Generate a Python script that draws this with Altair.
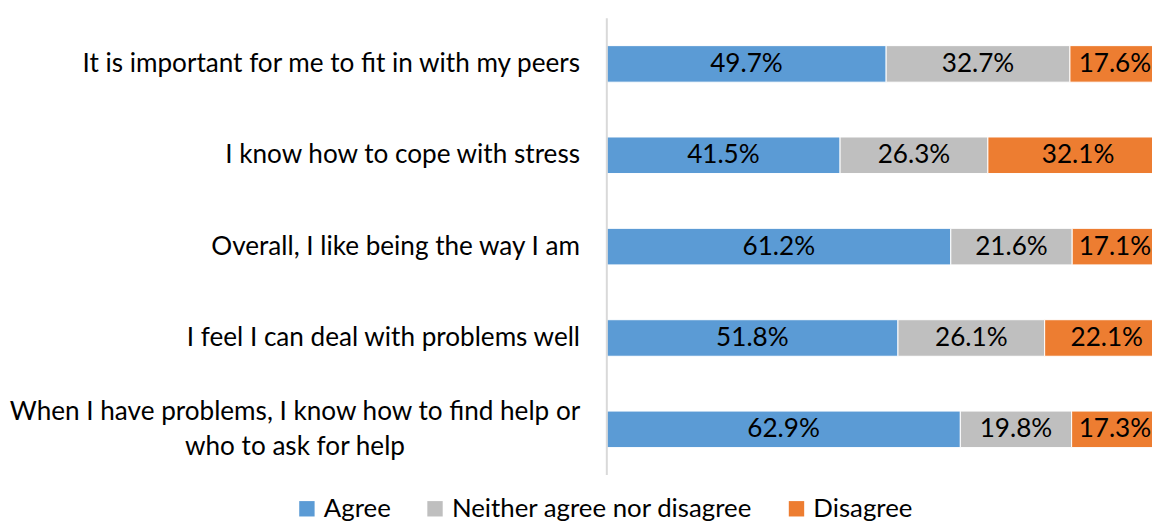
import altair as alt
import pandas as pd

statements = [
    "It is important for me to fit in with my peers",
    "I know how to cope with stress",
    "Overall, I like being the way I am",
    "I feel I can deal with problems well",
    "When I have problems, I know how to find help or\nwho to ask for help",
]
responses = ["Agree", "Neither agree nor disagree", "Disagree"]
agree = [49.7, 41.5, 61.2, 51.8, 62.9]
neither = [32.7, 26.3, 21.6, 26.1, 19.8]
disagree = [17.6, 32.1, 17.1, 22.1, 17.3]
colors = ["#5B9BD5", "#BFBFBF", "#ED7D31"]

rows = []
for i, s in enumerate(statements):
    for j, (r, vals) in enumerate(zip(responses, [agree, neither, disagree])):
        rows.append({"statement": s, "response": r, "order": j, "value": vals[i]})
df = pd.DataFrame(rows)

labels_df = pd.DataFrame({"statement": statements,
                          "multi": ["\n" in s for s in statements]})

FONT = "Lato"
FS = 26.3

y_enc = alt.Y("statement:N", sort=statements, axis=None,
              scale=alt.Scale(paddingInner=0.6, paddingOuter=0.3))

# the visible view is cropped at the right edge, as in the reference
x_scale = alt.Scale(domain=[0, 97.0], nice=False, zero=True)

base = alt.Chart(df).transform_stack(
    stack="value", groupby=["statement"], as_=["x0", "x1"],
    sort=[alt.SortField("order", order="ascending")],
).transform_calculate(mid="min((datum.x0 + datum.x1) / 2, 90.4)",
                      lbl="format(datum.value, '.1f') + '%'")

bars = base.mark_bar(stroke="white", strokeWidth=1, clip=True).encode(
    y=y_enc,
    x=alt.X("x0:Q", scale=x_scale, axis=None),
    x2="x1:Q",
    color=alt.Color("response:N", sort=responses,
                    scale=alt.Scale(domain=responses, range=colors),
                    legend=alt.Legend(title=None, orient="none", direction="horizontal",
                                      legendX=-315, legendY=481,
                                      symbolType="square", symbolSize=240,
                                      symbolStrokeWidth=0,
                                      labelFont=FONT, labelFontSize=26, labelColor="#000000",
                                      labelOffset=4, columnPadding=31,
                                      labelLimit=600)),
)

texts = base.mark_text(font=FONT, fontSize=FS, color="#000000", baseline="middle").encode(
    y=y_enc,
    x=alt.X("mid:Q", scale=x_scale),
    text="lbl:N",
)

axis_line = alt.Chart(pd.DataFrame({"v": [0]})).mark_rule(color="#D9D9D9", strokeWidth=2).encode(
    x=alt.X("v:Q", scale=x_scale), y=alt.value(0), y2=alt.value(460)
)

single = alt.Chart(labels_df).transform_filter("!datum.multi").mark_text(
    font=FONT, fontSize=FS, color="#000000", align="right", baseline="middle"
).encode(y=y_enc, x=alt.value(-27), text="statement:N")

multi = alt.Chart(labels_df).transform_filter("datum.multi").transform_calculate(
    lines="split(datum.statement, '\\n')"
).mark_text(
    font=FONT, fontSize=FS, color="#000000", align="center", baseline="middle",
    lineHeight=34.5, dy=-17
).encode(y=y_enc, x=alt.value(-314), text="lines:N")

chart = alt.layer(bars, texts, axis_line, single, multi).properties(
    width=549, height=460,
    autosize=alt.AutoSizeParams(type="none"),
    padding={"left": 603, "top": 8.5, "right": 0, "bottom": 44},
).configure_view(stroke=None)

chart.save("out.html", embed_options={"renderer": "svg", "actions": False})
